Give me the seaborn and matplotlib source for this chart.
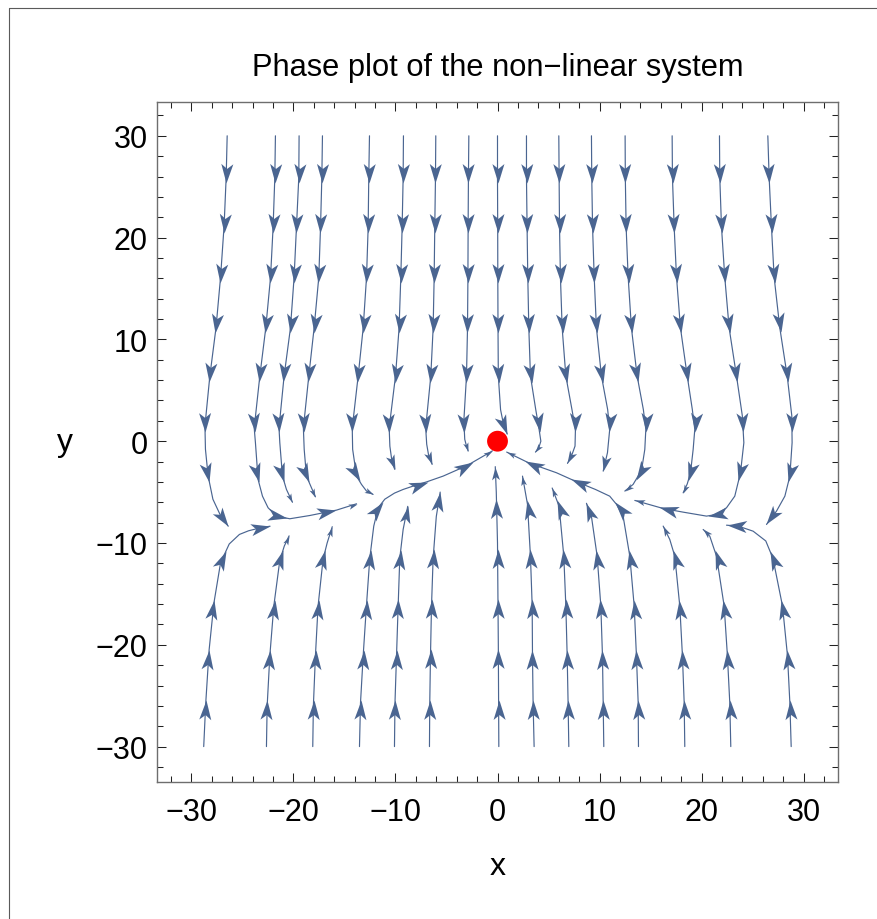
import numpy as np
import pandas as pd
import matplotlib
matplotlib.use("Agg")
import matplotlib.pyplot as plt
import seaborn as sns
from matplotlib.markers import MarkerStyle
from matplotlib.path import Path
from matplotlib.transforms import Affine2D
from matplotlib.lines import Line2D

# streamlines, (x, y) in data units, in flow direction
# lines coming down from y = 30
t1 = [(-26.5, 30), (-26.6, 25.9), (-26.8, 21.2), (-27.15, 16.1), (-27.6, 11.1), (-28.2, 6.4), (-28.68, 1.5),
      (-28.63, -0.8), (-28.37, -3.4), (-27.9, -5.7), (-27.2, -7.2), (-26.4, -8.35)]
t2 = [(-21.77, 30), (-21.83, 25.9), (-22.0, 21.0), (-22.25, 16.1), (-22.72, 11.1), (-23.3, 6.4), (-23.85, 1.3),
      (-23.73, -0.15), (-23.47, -3.76), (-23.04, -5.4), (-22.49, -6.54), (-21.67, -7.36), (-20.36, -7.62),
      (-18.4, -7.3), (-15.78, -6.77), (-13.82, -6.15)]
t3 = [(-19.45, 30), (-19.48, 25.9), (-19.71, 21.0), (-19.94, 16.1), (-20.3, 11.1), (-20.92, 6.4), (-21.42, 1.3),
      (-21.34, -0.15), (-21.08, -3.43), (-20.69, -4.74), (-20.1, -6.0)]
t4 = [(-17.16, 30), (-17.22, 25.9), (-17.35, 21.0), (-17.52, 16.1), (-17.98, 11.1), (-18.5, 6.4), (-19.03, 1.3),
      (-18.95, -0.8), (-18.73, -3.43), (-18.24, -4.57), (-17.85, -5.46)]
t5 = [(-12.55, 30), (-12.62, 25.9), (-12.68, 21.0), (-12.84, 16.1), (-13.17, 11.1), (-13.66, 6.4), (-14.24, 1.3),
      (-14.2, -0.8), (-13.82, -3.43), (-13.33, -4.25), (-12.84, -4.9), (-12.2, -5.23)]
t6 = [(-9.22, 30), (-9.25, 25.9), (-9.35, 21.0), (-9.48, 16.1), (-9.65, 11.1), (-10.0, 6.4), (-10.62, 1.3),
      (-10.55, -0.5), (-10.33, -2.1), (-10.07, -2.77)]
t7 = [(-6.05, 30), (-6.08, 25.9), (-6.15, 21.0), (-6.21, 16.1), (-6.31, 11.1), (-6.54, 6.4), (-7.04, 1.3),
      (-6.94, -0.3), (-6.74, -1.46), (-6.41, -2.28)]
t8 = [(-2.81, 30), (-2.85, 25.9), (-2.88, 21.0), (-2.9, 16.1), (-2.94, 11.1), (-3.04, 6.4), (-3.3, 2.0),
      (-3.21, 0.18), (-3.04, -0.48), (-2.88, -0.97)]
t9 = [(0.0, 30), (0.0, 25.9), (0.02, 21.0), (0.03, 16.1), (0.05, 11.1), (0.08, 6.4), (0.3, 3.1), (0.6, 1.6),
      (0.95, 0.7)]
r1 = [(2.84, 30), (2.84, 25.9), (2.9, 21.0), (2.97, 16.1), (3.07, 11.1), (3.23, 6.4), (3.75, 3.1), (4.08, 1.15),
      (4.25, 0.0), (4.05, -0.64), (3.72, -1.07)]
r2 = [(6.01, 30), (6.04, 25.9), (6.08, 21.0), (6.17, 16.1), (6.34, 11.1), (6.7, 6.4), (7.3, 3.1), (7.64, 1.16),
      (7.6, -0.48), (7.25, -1.46), (6.86, -2.18)]
r3 = [(9.21, 30), (9.24, 25.9), (9.32, 21.0), (9.48, 16.1), (9.7, 11.1), (10.19, 6.4), (10.8, 3.1), (11.0, 1.16),
      (10.78, -1.13), (10.36, -2.94)]
r4 = [(12.51, 30), (12.53, 25.9), (12.61, 21.0), (12.81, 16.1), (13.13, 11.1), (13.69, 6.4), (14.3, 3.1),
      (14.54, 1.16), (14.44, -0.81), (14.21, -2.28), (13.88, -3.26), (13.29, -4.25), (12.48, -4.9)]
r5 = [(17.12, 30), (17.15, 25.9), (17.32, 21.0), (17.55, 16.1), (17.94, 11.1), (18.6, 6.4), (19.1, 3.1),
      (19.34, 1.16), (19.18, -0.81), (18.92, -3.1), (18.6, -4.2), (18.2, -5.07)]
r6 = [(21.76, 30), (21.79, 25.9), (21.96, 21.0), (22.28, 16.1), (22.71, 11.1), (23.43, 6.4), (24.0, 2.5),
      (24.15, -0.15), (23.82, -3.1), (23.26, -5.4), (22.45, -6.54), (21.47, -7.2), (20.49, -7.36),
      (18.2, -6.97), (16.24, -6.61), (13.46, -5.82)]
r7 = [(26.5, 30), (26.63, 25.9), (26.86, 21.0), (27.12, 16.1), (27.68, 11.1), (28.4, 6.4), (28.85, 2.5),
      (28.88, -0.15), (28.66, -3.43), (28.17, -5.4), (27.35, -6.87), (26.37, -8.18)]
# lines going up from y = -30
b1 = [(-28.8, -30), (-28.6, -25.7), (-28.27, -20.5), (-27.8, -15.9), (-27.15, -11.95), (-26.3, -10.1),
      (-25.3, -9.16), (-24.4, -8.8), (-23.6, -8.6), (-22.3, -8.35)]
b2 = [(-22.65, -30), (-22.58, -26.0), (-22.32, -21.1), (-21.93, -16.2), (-21.34, -11.7), (-20.9, -10.3),
      (-20.43, -9.3)]
b3 = [(-18.11, -30), (-18.05, -26.0), (-17.85, -21.1), (-17.59, -16.2), (-17.1, -11.6), (-16.7, -10.0),
      (-16.2, -8.4)]
b4 = [(-13.53, -30), (-13.43, -25.7), (-13.17, -21.1), (-12.85, -16.2), (-12.52, -11.5), (-12.13, -8.34),
      (-11.7, -6.54), (-11.05, -5.7), (-10.1, -5.1), (-9.25, -4.74), (-7.8, -4.25), (-6.96, -4.0),
      (-5.33, -3.43), (-3.0, -2.4), (-0.5, -0.95)]
b5 = [(-10.1, -30), (-10.05, -25.7), (-9.9, -21.1), (-9.74, -16.2), (-9.58, -11.5), (-9.25, -8.67), (-8.8, -6.4)]
b6 = [(-6.67, -30), (-6.64, -25.7), (-6.57, -21.1), (-6.47, -16.2), (-6.31, -11.5), (-6.0, -7.4), (-5.62, -5.0)]
b7 = [(0.13, -30), (0.08, -20.0), (0.0, -10.0), (-0.12, -5.0), (-0.22, -2.5)]
b8 = [(3.59, -30), (3.49, -25.7), (3.43, -21.1), (3.4, -16.2), (3.23, -11.3), (2.94, -6.2), (2.45, -3.43)]
b9 = [(6.99, -30), (6.92, -25.7), (6.83, -21.1), (6.7, -16.2), (6.5, -11.3), (6.04, -6.4), (5.36, -4.6)]
b10 = [(10.42, -30), (10.36, -25.7), (10.29, -21.1), (10.13, -16.2), (9.77, -11.3), (9.21, -7.4), (8.72, -6.1)]
b11 = [(13.82, -30), (13.79, -25.7), (13.62, -21.1), (13.4, -16.2), (12.97, -11.3), (12.32, -7.4), (11.66, -6.2),
       (11.0, -5.4), (9.6, -4.74), (7.74, -3.98), (5.78, -3.1), (3.1, -2.15), (0.9, -1.07)]
b12 = [(18.36, -30), (18.3, -25.7), (18.13, -21.1), (17.87, -16.2), (17.38, -11.3), (16.89, -9.66), (16.24, -8.34)]
b13 = [(22.87, -30), (22.77, -25.7), (22.54, -21.1), (22.22, -16.2), (21.47, -11.3), (20.81, -9.33),
       (20.16, -8.67)]
b14 = [(28.79, -30), (28.66, -25.7), (28.43, -21.1), (27.94, -16.2), (27.0, -11.5), (26.3, -9.8), (25.06, -8.84),
       (23.59, -8.34), (22.45, -8.25)]

fixed_point = (0, 0)
xticks = [-30, -20, -10, 0, 10, 20, 30]
yticks = [-30, -20, -10, 0, 10, 20, 30]

lines = {"t1": t1, "t2": t2, "t3": t3, "t4": t4, "t5": t5, "t6": t6, "t7": t7, "t8": t8, "t9": t9,
         "r1": r1, "r2": r2, "r3": r3, "r4": r4, "r5": r5, "r6": r6, "r7": r7,
         "b1": b1, "b2": b2, "b3": b3, "b4": b4, "b5": b5, "b6": b6, "b7": b7,
         "b8": b8, "b9": b9, "b10": b10, "b11": b11, "b12": b12, "b13": b13, "b14": b14}

BLUE = "#4a6591"
SX, SY = 10.2, 10.17      # px per data unit
FIRST, STEP = 47.0, 50.0  # arrow spacing along a line, px

sns.set_style("ticks")
plt.rcParams["font.family"] = ["Liberation Sans", "DejaVu Sans"]
plt.rcParams["text.color"] = "black"
plt.rcParams["xtick.labelcolor"] = "black"
plt.rcParams["ytick.labelcolor"] = "black"
plt.rcParams["axes.labelcolor"] = "black"

fig = plt.figure(figsize=(8.78, 9.2), dpi=100)
ax = fig.add_axes([157.3 / 878, 1 - 782.7 / 920, 680.4 / 878, 680 / 920])

rows = []
for name, pts in lines.items():
    for i, (x, y) in enumerate(pts):
        rows.append((name, i, x, y))
df = pd.DataFrame(rows, columns=["line", "step", "x", "y"])
sns.lineplot(data=df, x="x", y="y", units="line", estimator=None, sort=False,
             color=BLUE, linewidth=0.85, ax=ax, zorder=2)

# arrowhead with notched back, tip at origin pointing to +x
head = Path([(0, 0), (-1, 0.31), (-0.75, 0), (-1, -0.31), (0, 0)],
            [Path.MOVETO, Path.LINETO, Path.LINETO, Path.LINETO, Path.CLOSEPOLY])


def arrow_marks(pts):
    p = np.array(pts, dtype=float) * [SX, SY]
    seg = np.diff(p, axis=0)
    d = np.hypot(seg[:, 0], seg[:, 1])
    cum = np.concatenate([[0], np.cumsum(d)])
    total = cum[-1]
    marks = []
    s = FIRST
    while s < total - 12:
        marks.append((s, 1.0))
        s += STEP
    last = marks[-1][0] if marks else 0
    marks.append((total, float(np.clip((total - last) / STEP, 0.45, 1.0))))
    out = []
    for s, f in marks:
        i = int(min(np.searchsorted(cum, s, side="right") - 1, len(d) - 1))
        t = (s - cum[i]) / d[i]
        xy = p[i] + t * seg[i]
        ang = np.degrees(np.arctan2(seg[i, 1], seg[i, 0]))
        out.append((xy[0] / SX, xy[1] / SY, ang, f))
    return out


for pts in lines.values():
    for x, y, ang, f in arrow_marks(pts):
        ms = MarkerStyle(head, transform=Affine2D().rotate_deg(ang))
        ax.plot([x], [y], marker=ms, markersize=28 * f, color=BLUE,
                markeredgewidth=0, linestyle="none", zorder=3)

sns.scatterplot(x=[fixed_point[0]], y=[fixed_point[1]], s=225, color="red",
                edgecolor="none", ax=ax, zorder=5)

ax.set_xlim(-33.35, 33.35)
ax.set_ylim(-33.45, 33.35)
ax.set_xticks(xticks)
ax.set_yticks(yticks)
ax.set_xticks(np.arange(-32, 33, 2), minor=True)
ax.set_yticks(np.arange(-32, 33, 2), minor=True)
ax.tick_params(which="both", direction="in", top=True, right=True, color="#222222",
               width=0.75, labelsize=22, labelcolor="black")
ax.tick_params(which="major", length=6.5)
ax.tick_params(which="minor", length=4.3)
ax.tick_params(axis="x", pad=11)
ax.tick_params(axis="y", pad=7)
for sp in ax.spines.values():
    sp.set_color("#6e6e6e")
    sp.set_linewidth(1.0)
ax.grid(False)

ax.set_title("Phase plot of the non\u2212linear system", fontsize=22.2, pad=19, color="black")
ax.set_xlabel("x", fontsize=23, va="center", color="black")
ax.xaxis.set_label_coords(0.5, -0.124)
ax.set_ylabel("y", fontsize=23, rotation=0, va="center", ha="center", color="black")
ax.yaxis.set_label_coords(-0.1357, 0.5)

# thin outer frame of the screenshot (left and top edges)
fig.add_artist(Line2D([8.5 / 878, 8.5 / 878], [0, 1 - 9 / 920], transform=fig.transFigure,
                      color="#5a5a5a", linewidth=0.8))
fig.add_artist(Line2D([8.5 / 878, 1], [1 - 9 / 920, 1 - 9 / 920], transform=fig.transFigure,
                      color="#5a5a5a", linewidth=0.8))

fig.savefig("out.png", dpi=100)
